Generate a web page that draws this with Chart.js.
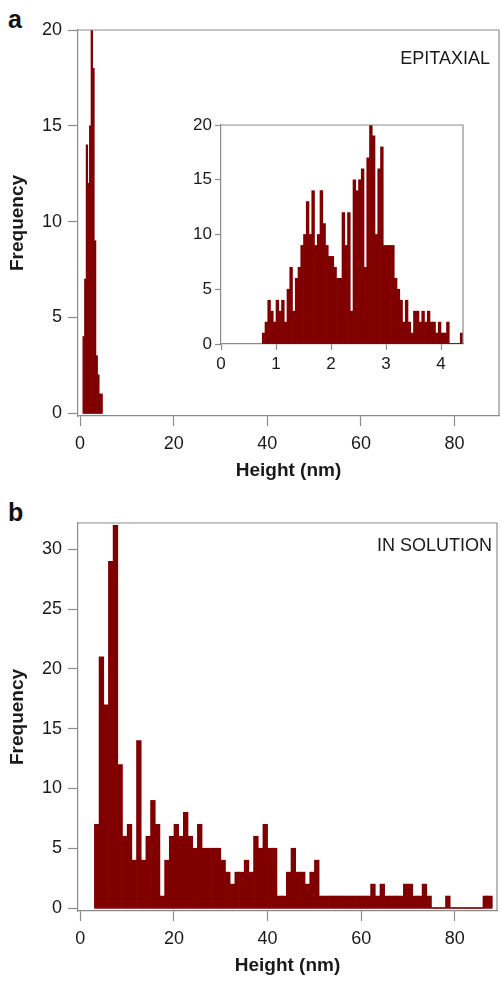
<!DOCTYPE html>
<html>
<head>
<meta charset="utf-8">
<script src="https://cdn.jsdelivr.net/npm/chart.js@4.4.1/dist/chart.umd.min.js"></script>
<style>
  body { margin: 0; background: #fff; width: 502px; height: 991px; position: relative; overflow: hidden; font-family: "Liberation Sans", Arial, sans-serif; }
  canvas { position: absolute; }
  .tag { position: absolute; font-weight: bold; font-size: 25px; line-height: 25px; color: #111; }
</style>
</head>
<body>
<div class="tag" style="left:8px;top:7px">a</div>
<canvas id="mainA" width="502" height="490" style="left:0;top:0"></canvas>
<canvas id="insetA" width="300" height="270" style="left:170px;top:110px"></canvas>
<div class="tag" style="left:8px;top:500px">b</div>
<canvas id="mainB" width="502" height="490" style="left:0;top:495px"></canvas>

<script>
// panel a inset: 0.05 nm bins starting at 0.75 nm
const insetStart = 0.75;
const insetBin = 0.05;
const insetCounts = [
  1, 2, 4, 3, 2, 4, 3, 4, 2, 5,
  7, 3, 6, 7, 9, 10, 13, 10, 14, 9,
  10, 14, 11, 9, 8, 8, 7, 6, 6, 12,
  9, 12, 3, 15, 14, 15, 16, 7, 17, 20,
  19, 10, 16, 18, 9, 9, 9, 9, 6, 5,
  4, 2, 4, 2, 1, 3, 3, 2, 3, 2,
  3, 2, 2, 1, 2, 1, 1, 2, 0, 0,
  0, 0, 1
];

// panel a full range: coarse bins
const mainAStart = 0.6;
const mainABin = 0.35;
const mainACounts = [4, 7, 14, 12, 15, 20, 18, 9, 3, 2, 1, 1];

// panel b: 1 nm bins starting at 3 nm
const mainBStart = 3;
const mainBBin = 1;
const mainBCounts = [
  7, 21, 17, 29, 32, 12, 6, 7, 4, 14,
  4, 6, 9, 7, 1, 4, 6, 7, 6, 8,
  6, 5, 7, 5, 5, 5, 5, 4, 3, 2,
  3, 3, 4, 3, 6, 5, 7, 5, 5, 1,
  1, 3, 5, 3, 3, 2, 3, 4, 1, 1,
  1, 1, 1, 1, 1, 1, 1, 1, 1, 2,
  1, 2, 1, 1, 1, 1, 2, 2, 1, 1,
  2, 1, 0, 0, 0, 1, 0, 0, 0, 0,
  0, 0, 0, 1, 1
];

const heightTicks = [0, 20, 40, 60, 80];
const freqTicksA = [0, 5, 10, 15, 20];
const insetXTicks = [0, 1, 2, 3, 4];
const freqTicksB = [0, 5, 10, 15, 20, 25, 30];

const BAR = "#800000";
const AXIS = "#8c8c8c";
const TXT = "#1a1a1a";
const FAMILY = '"Liberation Sans", Arial, sans-serif';

function toBars(start, bin, counts) {
  return counts.map((c, i) => ({ x: start + bin * (i + 0.5), y: c }));
}

const framePlugin = {
  id: "frame",
  afterDraw(chart, args, opts) {
    const { ctx, chartArea: a } = chart;
    ctx.save();
    ctx.strokeStyle = AXIS;
    ctx.lineWidth = 1.2;
    ctx.beginPath();
    ctx.moveTo(a.left, a.top);
    ctx.lineTo(a.right, a.top);
    ctx.lineTo(a.right, a.bottom);
    ctx.stroke();
    if (opts.label) {
      ctx.fillStyle = TXT;
      ctx.font = `${opts.size}px ${FAMILY}`;
      ctx.textAlign = "right";
      ctx.textBaseline = "alphabetic";
      ctx.fillText(opts.label, a.right - opts.dx, a.top + opts.dy);
    }
    ctx.restore();
  }
};

function histChart(id, c) {
  const end = c.start + c.bin * c.counts.length;
  return new Chart(document.getElementById(id), {
    type: "bar",
    data: {
      datasets: [
        {
          data: toBars(c.start, c.bin, c.counts),
          backgroundColor: BAR,
          borderWidth: 0,
          barPercentage: 1,
          categoryPercentage: 1,
          order: 1
        },
        {
          type: "line",
          data: [{ x: c.start, y: 0 }, { x: end, y: 0 }],
          borderColor: BAR,
          borderWidth: 1.5,
          pointRadius: 0,
          order: 0
        }
      ]
    },
    options: {
      responsive: false,
      animation: false,
      devicePixelRatio: 1,
      layout: { padding: { top: c.padTop, right: c.padRight, left: 0, bottom: 0 } },
      plugins: {
        legend: { display: false },
        tooltip: { enabled: false },
        frame: { label: c.label, size: c.labelSize, dx: c.labelDx, dy: c.labelDy }
      },
      scales: {
        x: {
          type: "linear",
          min: c.xMin,
          max: c.xMax,
          offset: false,
          afterBuildTicks: s => { s.ticks = c.xTicks.map(v => ({ value: v })); },
          afterFit: s => { s.height = c.xHeight; },
          grid: { drawOnChartArea: false, drawTicks: true, tickLength: c.tickLen, tickColor: AXIS, tickWidth: 1.2, offset: false },
          border: { color: AXIS, width: 1.2 },
          ticks: { color: TXT, font: { size: c.tickSize, family: FAMILY }, padding: c.xPad, maxRotation: 0, autoSkip: false },
          title: {
            display: !!c.xTitle,
            text: c.xTitle,
            color: TXT,
            font: { size: 19, weight: "bold", family: FAMILY },
            padding: { top: 0, bottom: c.xTitlePad }
          }
        },
        y: {
          min: c.yMin,
          max: c.yMax,
          afterBuildTicks: s => { s.ticks = c.yTicks.map(v => ({ value: v })); },
          afterFit: s => { s.width = c.yWidth; },
          grid: { drawOnChartArea: false, drawTicks: true, tickLength: c.tickLen, tickColor: AXIS, tickWidth: 1.2 },
          border: { color: AXIS, width: 1.2 },
          ticks: { color: TXT, font: { size: c.tickSize, family: FAMILY }, padding: c.yPad, autoSkip: false },
          title: {
            display: !!c.yTitle,
            text: c.yTitle,
            color: TXT,
            font: { size: 19, weight: "bold", family: FAMILY },
            padding: { top: 6, bottom: 0 }
          }
        }
      }
    },
    plugins: [framePlugin]
  });
}

histChart("mainA", {
  start: mainAStart, bin: mainABin, counts: mainACounts,
  xMin: -0.43, xMax: 89.5, xTicks: heightTicks,
  yMin: -0.15, yMax: 20, yTicks: freqTicksA,
  padTop: 30, padRight: 3, xHeight: 74, yWidth: 78,
  tickLen: 10, tickSize: 18, xPad: 7, yPad: 6,
  xTitle: "Height (nm)", xTitlePad: 7.6, yTitle: "Frequency",
  label: "EPITAXIAL", labelSize: 18, labelDx: 9, labelDy: 34
});

histChart("insetA", {
  start: insetStart, bin: insetBin, counts: insetCounts,
  xMin: 0, xMax: 4.4, xTicks: insetXTicks,
  yMin: 0, yMax: 20, yTicks: freqTicksA,
  padTop: 15, padRight: 7, xHeight: 36, yWidth: 51,
  tickLen: 6, tickSize: 17, xPad: 4, yPad: 3,
  xTitle: "", xTitlePad: 0, yTitle: ""
});

histChart("mainB", {
  start: mainBStart, bin: mainBBin, counts: mainBCounts,
  xMin: -0.5, xMax: 89, xTicks: heightTicks,
  yMin: -0.25, yMax: 32.2, yTicks: freqTicksB,
  padTop: 28, padRight: 5, xHeight: 74, yWidth: 78,
  tickLen: 10, tickSize: 18, xPad: 7, yPad: 6,
  xTitle: "Height (nm)", xTitlePad: 7.6, yTitle: "Frequency",
  label: "IN SOLUTION", labelSize: 18, labelDx: 5, labelDy: 28
});
</script>
</body>
</html>
